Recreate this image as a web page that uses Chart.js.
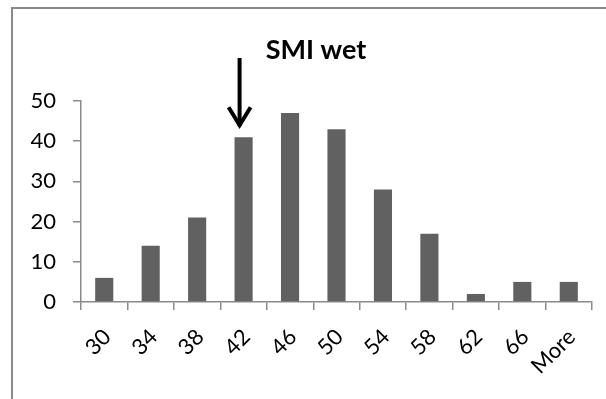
<!DOCTYPE html>
<html>
<head>
<meta charset="utf-8">
<script src="https://cdn.jsdelivr.net/npm/chart.js@4/dist/chart.umd.min.js"></script>
<style>
  html, body { margin: 0; padding: 0; background: #fff; width: 606px; height: 399px; overflow: hidden; }
  #frame { position: absolute; left: 11px; top: 7px; width: 700px; height: 500px; border-left: 2px solid #8a8a8a; border-top: 2px solid #8a8a8a; }
  #wrap { position: absolute; left: 0; top: 0; width: 606px; height: 399px; }
</style>
</head>
<body>
<div id="frame"></div>
<div id="wrap"><canvas id="c" width="606" height="399"></canvas></div>
<script>
const categories = ["30", "34", "38", "42", "46", "50", "54", "58", "62", "66", "More"];
const frequencies = [6, 14, 21, 41, 47, 43, 28, 17, 2, 5, 5];
const yTicks = [0, 10, 20, 30, 40, 50];
const titleText = "SMI wet";
const arrowCategory = "42";

const FONT = "Lato, 'Open Sans', sans-serif";
const AXIS = "#8a8a8a";

const annot = {
  id: "annot",
  afterDraw(chart) {
    const ctx = chart.ctx;
    const xs = chart.scales.x, ys = chart.scales.y;
    ctx.save();
    // title
    ctx.fillStyle = "#000";
    ctx.font = "bold 27px " + FONT;
    ctx.textAlign = "center";
    ctx.textBaseline = "alphabetic";
    ctx.fillText(titleText, 316, 59);
    // arrow
    const idx = categories.indexOf(arrowCategory);
    const ax = xs.getPixelForValue(idx) - 4;
    const tipY = ys.getPixelForValue(frequencies[idx]) - 9;
    const startY = 58;
    ctx.strokeStyle = "#000";
    ctx.lineWidth = 4;
    ctx.lineCap = "butt";
    ctx.beginPath();
    ctx.moveTo(ax, startY);
    ctx.lineTo(ax, tipY - 2);
    ctx.stroke();
    ctx.lineJoin = "miter";
    ctx.beginPath();
    ctx.moveTo(ax - 11, tipY - 21);
    ctx.lineTo(ax, tipY - 3);
    ctx.lineTo(ax + 11, tipY - 21);
    ctx.stroke();
    ctx.restore();
  }
};

new Chart(document.getElementById("c"), {
  type: "bar",
  data: {
    labels: categories,
    datasets: [{
      data: frequencies,
      backgroundColor: "#616161",
      borderWidth: 0,
      barPercentage: 0.39,
      categoryPercentage: 1.0
    }]
  },
  options: {
    responsive: false,
    animation: false,
    layout: { padding: { left: 0, top: 101, right: 14, bottom: 0 } },
    plugins: { legend: { display: false }, tooltip: { enabled: false }, title: { display: false } },
    scales: {
      y: {
        min: 0, max: 50,
        afterBuildTicks(s) { s.ticks = yTicks.map(v => ({ value: v })); },
        afterFit(s) { s.width = 81; },
        border: { display: true, color: AXIS, width: 1.5 },
        grid: { display: true, drawOnChartArea: false, drawTicks: true, tickLength: 8, color: AXIS, lineWidth: 1.5 },
        ticks: { color: "#000", font: { family: FONT, size: 22 }, padding: 17 }
      },
      x: {
        afterFit(s) { s.height = 97; },
        border: { display: true, color: AXIS, width: 1.5 },
        grid: { display: true, offset: true, drawOnChartArea: false, drawTicks: true, tickLength: 8, color: AXIS, lineWidth: 1.5 },
        ticks: { color: "#000", font: { family: FONT, size: 22 }, minRotation: 45, maxRotation: 45, padding: 14, labelOffset: 3, autoSkip: false }
      }
    }
  },
  plugins: [annot]
});
</script>
</body>
</html>
